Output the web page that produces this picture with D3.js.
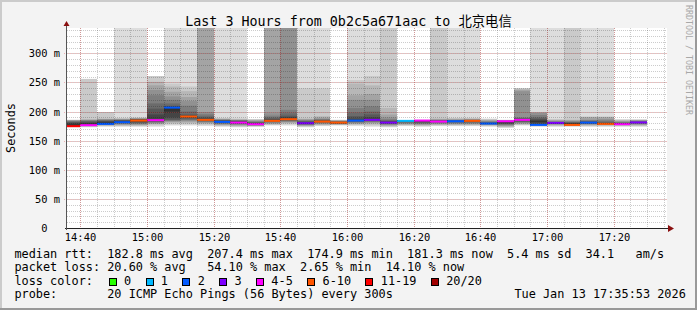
<!DOCTYPE html>
<html>
<head>
<meta charset="utf-8">
<style>
  body { margin: 0; background: #f3f3f3; }
  svg text { font-family: "DejaVu Sans Mono", "Noto Sans CJK SC", monospace; white-space: pre; fill: #000; }
</style>
</head>
<body>
<div id="chart"></div>
<script src="https://cdn.jsdelivr.net/npm/d3@7"></script>
<script>

//////////////////// data ////////////////////
const Inf = Infinity;
const day = "2026-01-13";
const now = "17:35:53";

// end time of each 5 min step
const slots = ["14:40","14:45","14:50","14:55","15:00","15:05","15:10","15:15","15:20","15:25",
               "15:30","15:35","15:40","15:45","15:50","15:55","16:00","16:05","16:10","16:15",
               "16:20","16:25","16:30","16:35","16:40","16:45","16:50","16:55","17:00","17:05",
               "17:10","17:15","17:20","17:25","17:30"];

// median rtt (ms)
const medians = [174.9,176.6,178.8,181.7,184.5,185.2,206.8,191.4,185.7,182.2,
                 181.0,178.3,184.0,186.9,180.0,182.8,181.0,184.5,185.7,181.0,
                 184.0,184.5,182.8,183.3,184.0,179.4,183.3,185.7,177.1,180.5,
                 177.1,181.0,178.8,178.3,181.3];

// packet loss (%)
const lossPct = [54.1,22,10,10,30,22,10,31,30,10,
                 21,22,30,32,15,30,31,10,15,15,
                 2.65,22,21,10,30,9,22,21,10,15,
                 30,10,30,22,14.1];

// 20 sorted ping rtts per step (ms), Inf = above the graph
const pings = [
  [173,173.5,174,174.2,174.4,174.6,174.8,174.9,175,175.2,178,180,182,183,184,184.5,185,185.3,185.6,186],
  [173,174,174.5,175,175.5,176,176.2,176.4,176.5,176.6,179,181,183,184,185,185.5,186,187,256,256],
  [174,175,176,176.5,177,177.5,178,178.4,178.6,178.8,181,183,184,185,186,186.5,187,188,199,199],
  [174,175,176,177,178,179,180,180.5,181,181.5,183,184,185,185.5,186,186.5,187,188,189,Inf],
  [174,175,176,177,178,179,180,181,182,183,185,186,186.5,187,187.5,188,188.5,189,190,Inf],
  [174,176,178,179,180,181,182,183,184,185,186,195,205,214,228,237,245,251,261,261],
  [176,178,180,182,183,184,185,186,190,200,207,208,210,214,220,226,234,243,248,Inf],
  [176,178,180,182,184,185,186,188,190,191,192,193,195,200,210,218,225,235,243,Inf],
  [175,177,179,180,181,182,183,184,185,185.5,186,188,190,193,196,199,Inf,Inf,Inf,Inf],
  [174,175,176,177,178,179,180,181,181.5,182,183,184,185,185.5,186,186.5,187,188,189,Inf],
  [173,174,175,176,177,178,179,180,180.5,181,182,183,184,184.5,185,185.5,186,187,188,Inf],
  [174,174.5,175,175.5,176,176.5,177,177.5,178,178.3,179,180,181,182,183,184,185,186,186.5,187],
  [176,177,178,179,180,181,182,183,183.5,184,185,186,188,190,193,197,Inf,Inf,Inf,Inf],
  [176,178,180,181,182,183,184,185,186,187,188,190,193,197,203,Inf,Inf,Inf,Inf,Inf],
  [173,174,175,176,176.5,177,178,179,179.5,180,181,182,183,184,185,186,187,188,240,Inf],
  [175,176,177,178,179,180,181,182,182.5,182.8,183.5,184,185,186,187,188,190,192,240,Inf],
  [176,177,177.5,178,178.5,179,179.5,180,180.5,181,181.5,182,182.5,183,183.5,184,184.5,185,185.5,186],
  [175,177,178,179,180,181,182,183,184,184.5,185,188,192,198,206,220,228,248,254,Inf],
  [174,176,178,180,181,182,183,184,185,186,187,190,195,200,209,220,230,245,261,Inf],
  [173,174,175,176,177,178,179,180,180.5,181,182,183,184,185,187,190,195,206,Inf,Inf],
  [175,176,177,178,179,180,181,182,182.5,183,183.5,183.8,184,184.1,184.2,184.4,184.6,184.8,185,185.5],
  [174,175,176,177,178,179,180,181,182,182.5,183,183.5,184,184.2,184.4,184.6,184.8,185,185.5,186],
  [175,176,177,178,179,180,181,182,182.5,183,183.5,184,184.5,185,185.5,186,187,188,Inf,Inf],
  [175,176,177,178,179,180,181,182,182.5,183,183.5,184,184.5,185,185.5,186,187,188,189,Inf],
  [175,176,177,178,179,180,181,182,183,183.5,184,184.5,185,185.5,186,186.5,187,188,189,Inf],
  [174,175,176,177,177.5,178,178.5,179,179.2,179.4,179.6,180,181,182,183,184,185,186,187,188],
  [172,173,174,175,176,177,178,179,180,181,182,183,183.3,183.6,184,184.3,184.6,185,185.5,186],
  [176,177,178,179,180,181,182,183,184,185,186,187,188,189,190,235,237,239,240,240],
  [174,175,176,176.5,177,177.5,178,179,180,182,184,186,188,190,194,198,198,198,198,Inf],
  [174,175,176,177,178,179,179.5,180,180.3,180.5,180.7,181,181.5,182,183,184,185,186,187,Inf],
  [174,175,175.5,176,176.5,177,177.2,177.5,178,178.5,179,180,181,182,183,184,185,186,Inf,Inf],
  [174,175,176,177,178,179,179.5,180,180.5,181,181.5,182,183,184,185,186,190,191,191,Inf],
  [174,175,176,177,177.5,178,178.3,178.6,178.8,179,179.5,180,181,183,185,187,190,191,191,Inf],
  [174,175,176,176.5,177,177.5,178,178.2,178.3,178.4,178.6,179,180,181,182,183,184,185,186,187],
  [174,175,176,177,178,179,180,180.5,180.8,181,181.2,181.5,182,183,184,184.5,185,185.5,186,187]
];

const yTicks = [0,50,100,150,200,250,300];
const yTickLabels = ["0  ","50 m","100 m","150 m","200 m","250 m","300 m"];
const xTickLabels = ["14:40","15:00","15:20","15:40","16:00","16:20","16:40","17:00","17:20"];
const lossLabels = ["0","1","2","3","4-5","6-10","11-19","20/20"];

const title = "Last 3 Hours from 0b2c5a671aac to 北京电信";
const legendLines = [
  "median rtt:  182.8 ms avg  207.4 ms max  174.9 ms min  181.3 ms now  5.4 ms sd  34.1   am/s",
  "packet loss: 20.60 % avg   54.10 % max  2.65 % min  14.10 % now",
  "loss color:",
  "probe:       20 ICMP Echo Pings (56 Bytes) every 300s"
];
const stamp = "Tue Jan 13 17:35:53 2026";

//////////////////// style ////////////////////
const lossColors = ["#26ff00","#00b8ff","#0059ff","#7e00ff","#ff00ff","#ff5500","#ff0000","#a10000"];
const W = 697, H = 310;
const plot = {left: 67, right: 667, top: 28, bottom: 228};
const CW = 7.143; // legend char width
const MINOR = 'rgba(0,0,0,0.2)';
const MAJOR = 'rgba(220,30,30,0.3)';

//////////////////// scales ////////////////////
const parse = d3.timeParse("%Y-%m-%d %H:%M:%S");
const tEnd = parse(day + " " + now);
const tStart = d3.timeHour.offset(tEnd, -3);
const slotTime = s => parse(day + " " + s + ":00");

const x = d3.scaleTime().domain([tStart, tEnd]).range([plot.left, plot.right]);
const y = d3.scaleLinear().domain([0, 343.5]).range([plot.bottom, plot.top]).clamp(true);
const px = t => Math.floor(x(t));

function lossBucket(pct) {
    const n = Math.round(pct / 100 * 20);
    if (n <= 3) return n;
    if (n <= 5) return 4;
    if (n <= 10) return 5;
    if (n <= 19) return 6;
    return 7;
}

//////////////////// svg ////////////////////
const svg = d3.select('#chart').append('svg')
    .attr('width', W)
    .attr('height', H);

svg.append('rect').attr('width', W).attr('height', H).attr('fill', '#f3f3f3');
svg.append('rect').attr('x', 0).attr('y', 0).attr('width', W).attr('height', 2).attr('fill', '#cbcbcb');
svg.append('rect').attr('x', 0).attr('y', 0).attr('width', 2).attr('height', H).attr('fill', '#cbcbcb');
svg.append('rect').attr('x', 0).attr('y', H - 2).attr('width', W).attr('height', 2).attr('fill', '#999');
svg.append('rect').attr('x', W - 2).attr('y', 0).attr('width', 2).attr('height', H).attr('fill', '#999');

svg.append('defs').append('clipPath').attr('id', 'clip')
    .append('rect')
    .attr('x', plot.left).attr('y', plot.top)
    .attr('width', plot.right - plot.left).attr('height', plot.bottom - plot.top);

// canvas
svg.append('rect')
    .attr('x', plot.left).attr('y', plot.top)
    .attr('width', plot.right - plot.left).attr('height', plot.bottom - plot.top)
    .attr('fill', '#fff');

const data = slots.map((s, i) => {
    const t1 = slotTime(s);
    return {t0: d3.timeMinute.offset(t1, -5), t1, median: medians[i], loss: lossPct[i], pings: pings[i]};
});

// smoke (same layering as smokeping: outer pings light, inner pings dark)
const smoke = [];
data.forEach(d => {
    for (let k = 1; k <= 10; k++) {
        smoke.push({d, k, lo: d.pings[k - 1], hi: d.pings[20 - k]});
    }
});

const g = svg.append('g').attr('clip-path', 'url(#clip)');
g.selectAll('rect.smoke')
    .data(smoke)
    .join('rect')
    .attr('class', 'smoke')
    .attr('x', s => px(s.d.t0))
    .attr('width', s => px(s.d.t1) - px(s.d.t0))
    .attr('y', s => y(Math.min(s.hi, 1e6)))
    .attr('height', s => y(s.lo) - y(Math.min(s.hi, 1e6)))
    .attr('fill', s => {
        const c = 50 + Math.floor(19 * (10 - s.k));
        return d3.rgb(c, c, c);
    });

// median, coloured by loss
g.selectAll('rect.median')
    .data(data)
    .join('rect')
    .attr('class', 'median')
    .attr('x', d => px(d.t0))
    .attr('width', d => px(d.t1) - px(d.t0))
    .attr('y', d => y(d.median) - 1)
    .attr('height', 2)
    .attr('fill', d => lossColors[lossBucket(d.loss)]);

//////////////////// grid ////////////////////
const grid = svg.append('g');
const minorX = d3.timeMinute.every(5).range(tStart, tEnd);
grid.selectAll('line.vmin').data(minorX).join('line')
    .attr('x1', t => px(t) + 0.5).attr('x2', t => px(t) + 0.5)
    .attr('y1', plot.top).attr('y2', plot.bottom)
    .attr('stroke', MINOR).attr('stroke-dasharray', '1,1');
const minorY = d3.range(10, 343, 10);
grid.selectAll('line.hmin').data(minorY).join('line')
    .attr('x1', plot.left).attr('x2', plot.right)
    .attr('y1', v => Math.round(y(v)) + 0.5).attr('y2', v => Math.round(y(v)) + 0.5)
    .attr('stroke', MINOR).attr('stroke-dasharray', '1,1');

const majorX = xTickLabels.map(slotTime);
grid.selectAll('line.vmaj').data(majorX).join('line')
    .attr('x1', t => px(t) + 0.5).attr('x2', t => px(t) + 0.5)
    .attr('y1', plot.top).attr('y2', plot.bottom + 2)
    .attr('stroke', MAJOR).attr('stroke-dasharray', '1,1');
grid.selectAll('line.hmaj').data(yTicks.slice(1)).join('line')
    .attr('x1', plot.left - 3).attr('x2', plot.right)
    .attr('y1', v => Math.round(y(v)) + 0.5).attr('y2', v => Math.round(y(v)) + 0.5)
    .attr('stroke', MAJOR).attr('stroke-dasharray', '1,1');

//////////////////// axes ////////////////////
const axisY = plot.bottom + 0.5, axisX = plot.left - 0.5;
svg.append('line').attr('x1', plot.left - 2).attr('x2', plot.right + 2)
    .attr('y1', axisY).attr('y2', axisY).attr('stroke', '#222');
svg.append('line').attr('x1', axisX).attr('x2', axisX)
    .attr('y1', plot.bottom + 2).attr('y2', plot.top - 3).attr('stroke', '#555');
svg.append('path')
    .attr('d', `M${plot.right + 1},${axisY - 3.5} L${plot.right + 7},${axisY} L${plot.right + 1},${axisY + 3.5} Z`)
    .attr('fill', '#8a1010');
svg.append('path')
    .attr('d', `M${axisX - 3},${plot.top - 2} L${axisX},${plot.top - 7} L${axisX + 3},${plot.top - 2} Z`)
    .attr('fill', '#8a1010');

svg.selectAll('text.ylab').data(yTicks).join('text')
    .attr('class', 'ylab')
    .attr('xml:space', 'preserve')
    .attr('x', 60)
    .attr('y', v => Math.round(y(v)) + 0.5)
    .attr('dy', '0.36em')
    .attr('text-anchor', 'end')
    .style('font-size', '10.4px')
    .text((v, i) => yTickLabels[i]);

svg.selectAll('text.xlab').data(xTickLabels).join('text')
    .attr('class', 'xlab')
    .attr('x', s => px(slotTime(s)) + 0.5)
    .attr('y', 240.5)
    .attr('text-anchor', 'middle')
    .style('font-size', '10.4px')
    .text(s => s);

svg.append('text')
    .attr('transform', `translate(15, ${(plot.top + plot.bottom) / 2}) rotate(-90)`)
    .attr('text-anchor', 'middle')
    .style('font-size', '11.87px')
    .text('Seconds');

svg.append('text')
    .attr('x', W / 2).attr('y', 26.3)
    .attr('text-anchor', 'middle')
    .style('font-size', '13.35px')
    .text(title);

svg.append('text')
    .attr('transform', 'translate(685.5, 5) rotate(90)')
    .style('font-size', '8.3px')
    .style('fill', '#a8a8a8')
    .text('RRDTOOL / TOBI OETIKER');

//////////////////// legend ////////////////////
const baseY = [258, 271.3, 284.6, 297.9];
legendLines.forEach((line, i) => {
    svg.append('text')
        .attr('xml:space', 'preserve')
        .attr('x', 14.4).attr('y', baseY[i])
        .style('font-size', '11.87px')
        .text(line);
});

let lx = 108.7;
lossLabels.forEach((lab, i) => {
    svg.append('rect')
        .attr('x', Math.round(lx) + 0.5).attr('y', 278.5)
        .attr('width', 7).attr('height', 7)
        .attr('fill', lossColors[i]).attr('stroke', '#000');
    svg.append('text')
        .attr('x', lx + 15.3).attr('y', baseY[2])
        .style('font-size', '11.87px')
        .text(lab);
    lx += 15.3 + lab.length * CW + 14.4;
});

svg.append('text')
    .attr('x', 14.4 + 70 * CW).attr('y', baseY[3])
    .style('font-size', '11.87px')
    .text(stamp);

</script>
</body>
</html>
